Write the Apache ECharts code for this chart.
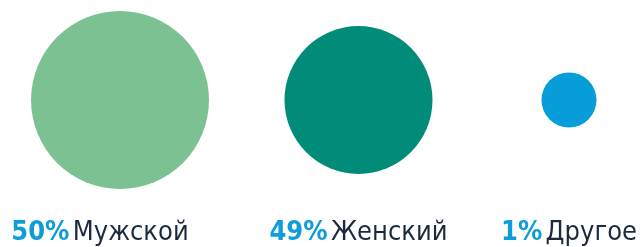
<!DOCTYPE html>
<html>
<head>
<meta charset="utf-8">
<script src="https://cdn.jsdelivr.net/npm/echarts@6/dist/echarts.min.js"></script>
<style>
  html, body { margin: 0; padding: 0; background: #fff; }
  #chart { width: 640px; height: 247px; }
</style>
</head>
<body>
<div id="chart"></div>
<script>
const categories = ['Мужской', 'Женский', 'Другое']
const shares = [50, 49, 1]

// styling only (not data)
const colors = ['#7cc192', '#008c78', '#079dd9']
const bubbleSizes = [178, 148, 55]
const bubbleOffsets = [[0, 0], [14, 0], [0, 0]]
const labelOffsets = [[-20, 133], [0, 133], [0, 133]]
const labelFont = '"DejaVu Sans Condensed", "DejaVu Sans", sans-serif'

const chart = echarts.init(document.getElementById('chart'))

const options = {
  animation: false,
  grid: {
    left: 120,
    right: 71,
    top: 0,
    bottom: 47
  },
  xAxis: {
    type: 'category',
    boundaryGap: false,
    data: categories,
    show: false
  },
  yAxis: {
    type: 'category',
    data: [''],
    show: false
  },
  series: [{
    type: 'scatter',
    data: shares.map((v, i) => ({
      value: [categories[i], ''],
      symbolSize: bubbleSizes[i],
      symbolOffset: bubbleOffsets[i],
      itemStyle: { color: colors[i], opacity: 1 },
      label: { offset: labelOffsets[i] }
    })),
    label: {
      show: true,
      position: 'inside',
      formatter: p => '{pct|' + shares[p.dataIndex] + '%} {name|' + categories[p.dataIndex] + '}',
      rich: {
        pct: {
          fontFamily: labelFont,
          fontWeight: 'bold',
          fontSize: 27,
          color: '#0e9dd9'
        },
        name: {
          fontFamily: labelFont,
          fontSize: 27,
          color: '#1b2a3e'
        }
      }
    }
  }]
}

chart.setOption(options)
window.addEventListener('resize', () => {
  chart.resize()
})
</script>
</body>
</html>
